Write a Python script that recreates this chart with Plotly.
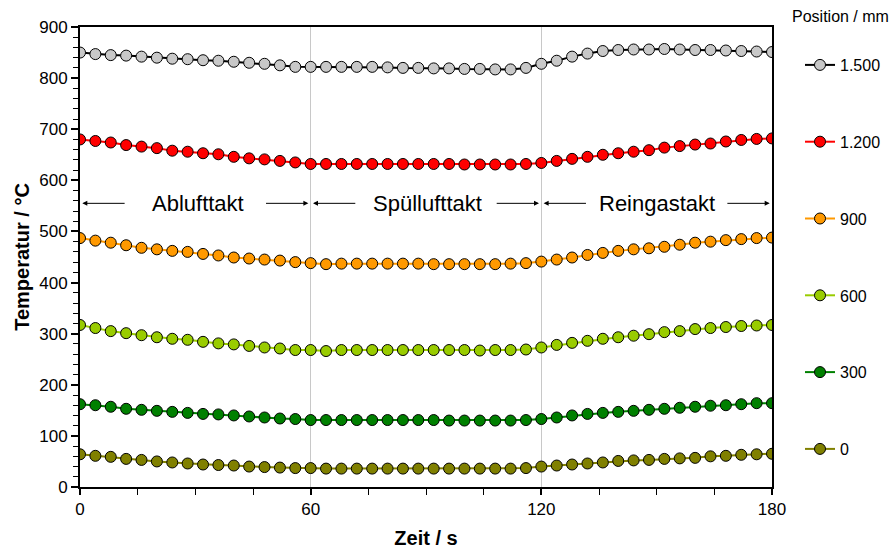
import plotly.graph_objects as go

time_s = list(range(0, 181, 4))

pos_1500 = [850, 847, 845, 844, 842, 840, 838, 837, 835, 834, 832, 830, 828, 825, 822,
            822, 822, 822, 822, 822, 821, 820, 820, 819, 819, 818, 818, 817, 817, 820,
            828, 834, 842, 848, 853, 855, 856, 856, 857, 856, 855, 855, 854, 853, 852, 851]
pos_1200 = [680, 677, 674, 669, 666, 663, 658, 656, 653, 651, 646, 643, 641, 638, 635,
            632, 632, 632, 632, 632, 632, 632, 632, 632, 632, 631, 631, 631, 631, 632,
            634, 638, 642, 646, 650, 653, 656, 659, 664, 667, 670, 672, 676, 679, 681, 682]
pos_900 = [487, 482, 478, 473, 468, 465, 462, 460, 456, 453, 449, 447, 445, 443, 440,
           438, 436, 437, 437, 437, 437, 437, 437, 436, 436, 436, 436, 436, 437, 438,
           441, 445, 449, 454, 458, 462, 465, 467, 470, 474, 478, 480, 483, 485, 487, 488]
pos_600 = [317, 311, 305, 301, 297, 293, 290, 288, 284, 281, 279, 276, 273, 271, 268,
           268, 266, 268, 268, 268, 268, 268, 268, 268, 268, 268, 267, 268, 268, 269,
           273, 278, 282, 286, 290, 293, 296, 299, 303, 305, 309, 311, 313, 315, 316, 317]
pos_300 = [162, 160, 157, 153, 151, 149, 147, 145, 143, 142, 140, 138, 136, 134, 133,
           131, 131, 131, 131, 131, 131, 131, 131, 131, 130, 130, 130, 130, 130, 131,
           133, 136, 140, 143, 145, 147, 149, 151, 153, 155, 157, 159, 160, 162, 164, 164]
pos_0 = [64, 61, 59, 55, 53, 50, 48, 46, 44, 43, 42, 40, 39, 38, 37,
         37, 36, 36, 36, 36, 36, 36, 36, 36, 36, 36, 36, 36, 36, 37,
         40, 42, 44, 46, 48, 51, 52, 53, 55, 56, 57, 60, 61, 63, 64, 65]

series_names = ["1.500", "1.200", "900", "600", "300", "0"]
series_values = [pos_1500, pos_1200, pos_900, pos_600, pos_300, pos_0]
marker_colors = ["#C8C8C8", "#FF0000", "#FF9900", "#99CC00", "#008000", "#808000"]
line_colors = ["#000000", "#FF0000", "#FF9900", "#99CC00", "#008000", "#808000"]

phase_labels = ["Ablufttakt", "Spüllufttakt", "Reingastakt"]
phase_label_x = [30.6, 90.4, 150.2]
phase_bounds = [(0, 60), (60, 120), (120, 180)]
phase_label_y = 555

FONT = "Liberation Sans, Arial, sans-serif"

fig = go.Figure()
for name, vals, mc, lc in zip(series_names, series_values, marker_colors, line_colors):
    fig.add_trace(go.Scatter(
        x=time_s, y=vals, name=name, legendgroup=name, mode="lines+markers",
        line=dict(color=lc, width=2),
        marker=dict(color=mc, size=11, line=dict(color="#000000", width=1)),
    ))

annotations = []
for label, lx, (a, b) in zip(phase_labels, phase_label_x, phase_bounds):
    annotations.append(dict(x=lx, y=phase_label_y, xref="x", yref="y", text=label,
                            showarrow=False, font=dict(family=FONT, size=22, color="#000000")))
    annotations.append(dict(x=a + 0.6, y=phase_label_y, ax=a + 12, ay=phase_label_y,
                            xref="x", yref="y", axref="x", ayref="y", text="",
                            showarrow=True, arrowhead=2, arrowsize=1, arrowwidth=1,
                            arrowcolor="#000000"))
    annotations.append(dict(x=b - 0.6, y=phase_label_y, ax=b - 12, ay=phase_label_y,
                            xref="x", yref="y", axref="x", ayref="y", text="",
                            showarrow=True, arrowhead=2, arrowsize=1, arrowwidth=1,
                            arrowcolor="#000000"))

annotations.append(dict(x=(790 - 80) / 692, y=(487 - 17) / 460, xref="paper", yref="paper",
                        text="Position / mm", showarrow=False, xanchor="left", yanchor="middle",
                        font=dict(family=FONT, size=16, color="#000000")))

fig.update_layout(
    width=896, height=550,
    margin=dict(l=80, r=124, t=27, b=63),
    paper_bgcolor="#FFFFFF", plot_bgcolor="#FFFFFF",
    font=dict(family=FONT, size=17, color="#000000"),
    showlegend=True,
    legend=dict(xref="container", yref="container",
                x=800 / 896, xanchor="left", y=1 - 48 / 550, yanchor="top",
                traceorder="grouped", tracegroupgap=53, maxheight=520,
                font=dict(family=FONT, size=16, color="#000000"),
                bgcolor="rgba(0,0,0,0)", itemclick=False),
    annotations=annotations,
)

fig.update_xaxes(
    range=[0, 180], tickvals=[0, 60, 120, 180], ticktext=["0", "60", "120", "180"],
    ticks="outside", ticklen=6, tickwidth=2, tickcolor="#000000",
    minor=dict(dtick=15, ticks="outside", ticklen=6, tickwidth=1, tickcolor="#000000", showgrid=False),
    showgrid=True, gridcolor="#C8C8C8", gridwidth=1,
    showline=True, linecolor="#000000", linewidth=2, mirror=True,
    zeroline=False, automargin=False,
    title=dict(text="<b>Zeit / s</b>", font=dict(family=FONT, size=20), standoff=13),
    tickfont=dict(family=FONT, size=17),
)
fig.update_yaxes(
    range=[0, 900], dtick=100, tick0=0,
    ticks="outside", ticklen=7, tickwidth=2, tickcolor="#000000",
    minor=dict(dtick=20, ticks="outside", ticklen=5, tickwidth=1, tickcolor="#000000", showgrid=False),
    showgrid=False,
    showline=True, linecolor="#000000", linewidth=2, mirror=True,
    zeroline=False, automargin=False,
    title=dict(text="<b>Temperatur / °C</b>", font=dict(family=FONT, size=20), standoff=4),
    tickfont=dict(family=FONT, size=17),
)

fig.write_html("out.html")
